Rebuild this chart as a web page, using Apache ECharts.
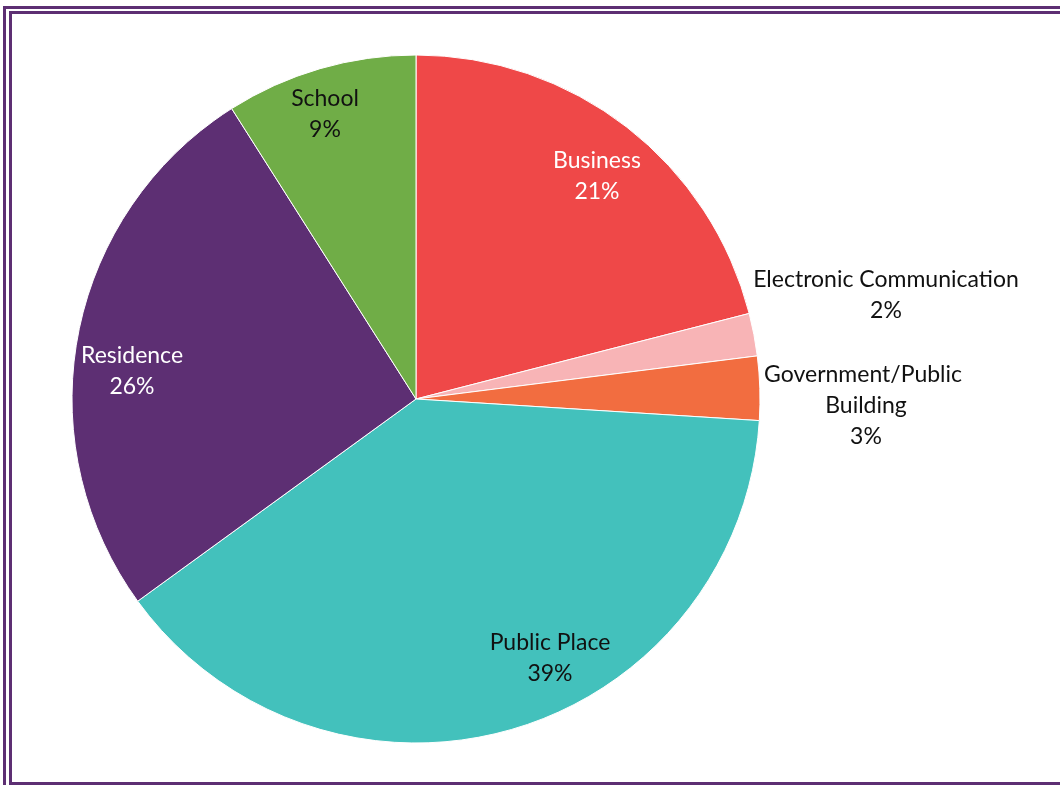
<!DOCTYPE html>
<html>
<head>
<meta charset="utf-8">
<script src="https://cdn.jsdelivr.net/npm/echarts@6/dist/echarts.min.js"></script>
<style>
  html, body { margin: 0; padding: 0; background: #ffffff; }
  #chart { width: 1060px; height: 785px; }
</style>
</head>
<body>
<div id="chart"></div>
<script>
// Incident locations, share of total (%)
const categories = ['Business', 'Electronic Communication', 'Government/Public Building', 'Public Place', 'Residence', 'School'];
const shares = [21, 2, 3, 39, 26, 9];
const sliceColors = ['#EF4848', '#F8B4B6', '#F26D40', '#43C1BC', '#5D2F73', '#70AD47'];
const labelColors = ['#ffffff', '#111111', '#111111', '#111111', '#ffffff', '#111111'];

// Where each label block is centred (px); thin slices get their label beside the rim
const labelAnchors = [[597, 176], [886, 295], [866, 406], [550, 658], [132, 371], [325, 114]];
// wrap width for long names (px)
const labelWraps = [0, 0, 215, 0, 0, 0];

const FONT = 'Lato';
const CENTER = [416, 399];
const R = 344;
const frameColor = '#5D2F73';

const pieData = categories.map((name, i) => {
  const label = { color: labelColors[i] };
  if (labelWraps[i]) { label.width = labelWraps[i]; label.overflow = 'break'; }
  return {
    name: name,
    value: shares[i],
    itemStyle: { color: sliceColors[i] },
    label: label
  };
});

const chart = echarts.init(document.getElementById('chart'), null, { renderer: 'canvas' });
chart.setOption({
  backgroundColor: '#ffffff',
  animation: false,
  graphic: [
    { type: 'rect', shape: { x: 4.5, y: 7.5, width: 1080, height: 800 },
      style: { fill: 'none', stroke: frameColor, lineWidth: 3 } },
    { type: 'rect', shape: { x: 10.5, y: 12.5, width: 1080, height: 771 },
      style: { fill: 'none', stroke: frameColor, lineWidth: 3 } }
  ],
  series: [
    {
      type: 'pie',
      center: CENTER,
      radius: R,
      startAngle: 90,
      clockwise: true,
      percentPrecision: 0,
      avoidLabelOverlap: false,
      itemStyle: { borderColor: '#ffffff', borderWidth: 1 },
      label: {
        position: 'inside',
        fontFamily: FONT,
        fontSize: 23,
        lineHeight: 31,
        align: 'center',
        formatter: '{b}\n{d}%'
      },
      labelLine: { show: false },
      labelLayout: function (p) {
        const a = labelAnchors[p.dataIndex];
        return { x: a[0], y: a[1], align: 'center', verticalAlign: 'middle' };
      },
      emphasis: { disabled: true },
      data: pieData
    }
  ]
});
</script>
</body>
</html>
